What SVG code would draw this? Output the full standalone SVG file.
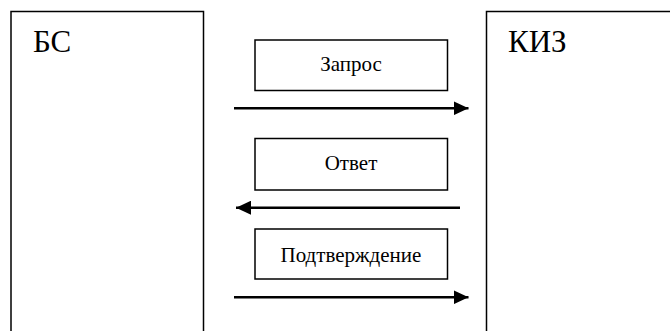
<svg xmlns="http://www.w3.org/2000/svg" width="670" height="331" viewBox="0 0 670 331">
<style>
.box{fill:#fff;stroke:#000;stroke-width:1.5}
text{font-family:'Liberation Serif',serif;fill:#000}
.big{font-size:31px}
.lbl{font-size:21px;text-anchor:middle}
.arr{stroke:#000;stroke-width:2.5;fill:none}
</style>
<defs>
<marker id="ah" markerWidth="15" markerHeight="14" refX="15" refY="7" orient="auto" markerUnits="userSpaceOnUse">
<path d="M0,0 L15,7 L0,14 Z" fill="#000"/>
</marker>
</defs>
<rect width="670" height="331" fill="#fff"/>
<g id="bs">
<rect class="box" x="11" y="11.5" width="192.5" height="330"/>
<text class="big" x="33" y="52">БС</text>
</g>
<g id="kiz">
<rect class="box" x="486.5" y="11.5" width="200" height="330"/>
<text class="big" x="508" y="52">КИЗ</text>
</g>
<g id="zapros">
<rect class="box" x="255" y="40" width="192.5" height="50.5"/>
<text class="lbl" x="351" y="71">Запрос</text>
</g>
<g id="otvet">
<rect class="box" x="255" y="138.5" width="192.5" height="51.5"/>
<text class="lbl" x="351" y="170">Ответ</text>
</g>
<g id="podtv">
<rect class="box" x="255" y="229" width="192.5" height="50"/>
<text class="lbl" x="351" y="261.5">Подтверждение</text>
</g>
<g id="connectors">
<line class="arr" x1="234" y1="108.3" x2="468.5" y2="108.3" marker-end="url(#ah)"/>
<line class="arr" x1="460" y1="207.7" x2="236" y2="207.7" marker-end="url(#ah)"/>
<line class="arr" x1="234" y1="297.3" x2="468.5" y2="297.3" marker-end="url(#ah)"/>
</g>
</svg>
